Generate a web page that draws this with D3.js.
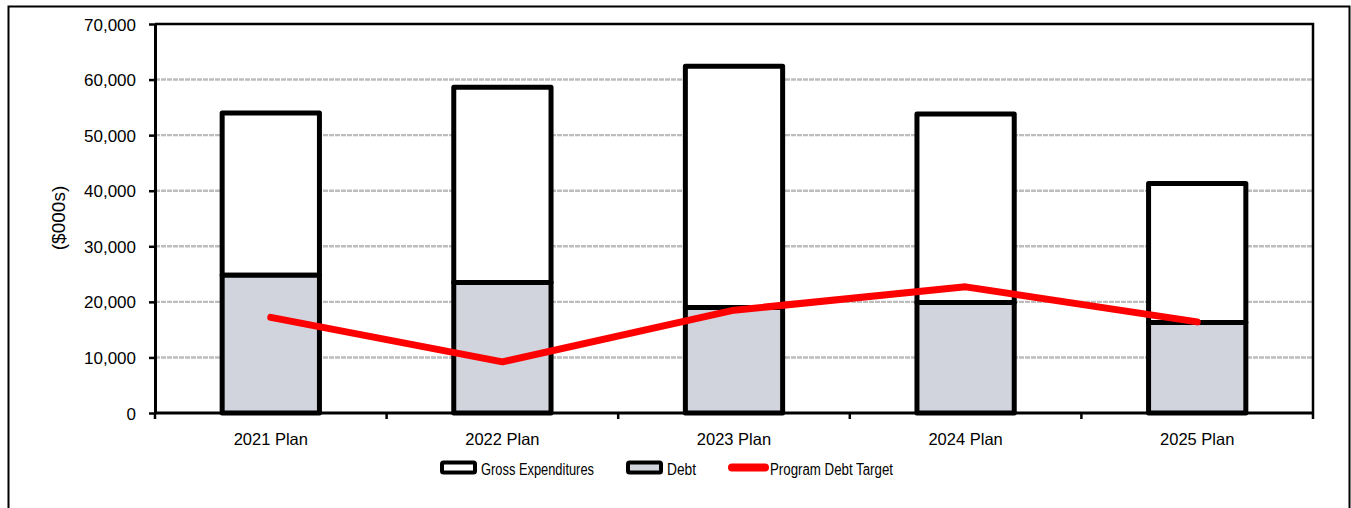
<!DOCTYPE html>
<html>
<head>
<meta charset="utf-8">
<script src="https://cdn.jsdelivr.net/npm/d3@7"></script>
<style>
  html, body { margin: 0; padding: 0; background: #fff; }
  svg { display: block; }
  text { font-family: "Liberation Sans", Arial, sans-serif; fill: #000; }
</style>
</head>
<body>
<svg id="chart" width="1351" height="508"></svg>
<script>
// Plan years and their amounts ($000s)
const categories = ["2021 Plan", "2022 Plan", "2023 Plan", "2024 Plan", "2025 Plan"];
const grossExpenditures = [54000, 58600, 62400, 53800, 41300];
const debt = [24800, 23500, 19000, 19900, 16300];
const programDebtTarget = [17200, 9200, 18500, 22700, 16400];
const yTicks = [0, 10000, 20000, 30000, 40000, 50000, 60000, 70000];
const legendLabels = ["Gross Expenditures", "Debt", "Program Debt Target"];

const svg = d3.select("#chart");
const plot = { left: 155, right: 1313, top: 24, bottom: 413 };

// outer frame
svg.append("rect")
  .attr("x", 8.5).attr("y", 6.5)
  .attr("width", 1341).attr("height", 520)
  .attr("fill", "none").attr("stroke", "#000").attr("stroke-width", 2);

const x = d3.scaleBand().domain(categories)
  .range([plot.left, plot.right]).paddingInner(0.58).paddingOuter(0.29);
const xOuter = d3.scaleBand().domain(categories).range([plot.left, plot.right]);
const y = d3.scaleLinear().domain([0, 70000]).range([plot.bottom, plot.top]);

// horizontal gridlines
svg.append("g")
  .selectAll("line").data(yTicks.filter(d => d > 0 && d < 70000)).join("line")
  .attr("x1", plot.left).attr("x2", plot.right)
  .attr("y1", d => y(d)).attr("y2", d => y(d))
  .attr("stroke", "#bdbdbd").attr("stroke-width", 2.4)
  .attr("stroke-dasharray", "5,1");

// plot area border (top & right)
svg.append("path")
  .attr("d", `M${plot.left},${plot.top}H${plot.right}V${plot.bottom}`)
  .attr("fill", "none").attr("stroke", "#000").attr("stroke-width", 2.5);

// stacked bars: debt at the bottom, remaining gross on top
const bars = svg.append("g");
bars.selectAll("rect.gross").data(categories).join("rect")
  .attr("class", "gross")
  .attr("x", d => x(d)).attr("width", x.bandwidth())
  .attr("y", (d, i) => y(grossExpenditures[i]))
  .attr("height", (d, i) => y(debt[i]) - y(grossExpenditures[i]))
  .attr("fill", "#fff").attr("stroke", "#000").attr("stroke-width", 5)
  .attr("stroke-linejoin", "round");
bars.selectAll("rect.debt").data(categories).join("rect")
  .attr("class", "debt")
  .attr("x", d => x(d)).attr("width", x.bandwidth())
  .attr("y", (d, i) => y(debt[i]))
  .attr("height", (d, i) => y(0) - y(debt[i]))
  .attr("fill", "#d1d4dc").attr("stroke", "#000").attr("stroke-width", 5)
  .attr("stroke-linejoin", "round");

// program debt target line
const line = d3.line()
  .x((d, i) => x(categories[i]) + x.bandwidth() / 2)
  .y(d => y(d));
svg.append("path")
  .datum(programDebtTarget)
  .attr("d", line)
  .attr("fill", "none").attr("stroke", "#ff0000").attr("stroke-width", 7)
  .attr("stroke-linecap", "round").attr("stroke-linejoin", "round");

// y axis
const yAxis = svg.append("g")
  .attr("transform", `translate(${plot.left},0)`)
  .call(d3.axisLeft(y).tickValues(yTicks).tickSize(6).tickSizeOuter(0)
    .tickFormat(d3.format(",")));
yAxis.select(".domain").attr("stroke", "#000").attr("stroke-width", 3);
yAxis.selectAll(".tick line").attr("stroke", "#000").attr("stroke-width", 2.5).attr("x2", -6).attr("x1", 1);
yAxis.selectAll(".tick text")
  .attr("x", -19).attr("dy", "0.36em")
  .style("font-size", "17px").style("font-family", "'Liberation Sans', Arial, sans-serif");

// x axis with ticks at category boundaries
const xAxisG = svg.append("g").attr("transform", `translate(0,${plot.bottom})`);
xAxisG.append("line")
  .attr("x1", plot.left - 1).attr("x2", plot.right)
  .attr("stroke", "#000").attr("stroke-width", 3);
const boundaries = categories.map(c => xOuter(c)).concat([plot.right]);
xAxisG.selectAll("line.tk").data(boundaries).join("line")
  .attr("class", "tk")
  .attr("x1", d => d).attr("x2", d => d)
  .attr("y1", 0).attr("y2", 6)
  .attr("stroke", "#000").attr("stroke-width", 2.5);
xAxisG.selectAll("text").data(categories).join("text")
  .attr("x", d => xOuter(d) + xOuter.bandwidth() / 2)
  .attr("y", 32)
  .attr("text-anchor", "middle")
  .style("font-size", "16.5px")
  .text(d => d);

// y axis title
svg.append("text")
  .attr("transform", "translate(65,218) rotate(-90)")
  .attr("text-anchor", "middle")
  .style("font-size", "19px")
  .text("($000s)");

// legend
const legend = svg.append("g");
const legendItems = [
  { label: legendLabels[0], sx: 440, tx: 481, tw: 113, kind: "box", fill: "#fff" },
  { label: legendLabels[1], sx: 626, tx: 667, tw: 29, kind: "box", fill: "#d1d4dc" },
  { label: legendLabels[2], sx: 728, tx: 770, tw: 123, kind: "line" }
];
legendItems.forEach(it => {
  if (it.kind === "box") {
    legend.append("rect")
      .attr("x", it.sx + 2).attr("y", 462.5)
      .attr("width", 33).attr("height", 10)
      .attr("rx", 1.5)
      .attr("fill", it.fill).attr("stroke", "#000").attr("stroke-width", 4);
  } else {
    legend.append("line")
      .attr("x1", it.sx + 4).attr("x2", it.sx + 37)
      .attr("y1", 467.5).attr("y2", 467.5)
      .attr("stroke", "#ff0000").attr("stroke-width", 8)
      .attr("stroke-linecap", "round");
  }
  legend.append("text")
    .attr("x", it.tx).attr("y", 474.5)
    .attr("textLength", it.tw).attr("lengthAdjust", "spacingAndGlyphs")
    .style("font-size", "16px")
    .text(it.label);
});
</script>
</body>
</html>
